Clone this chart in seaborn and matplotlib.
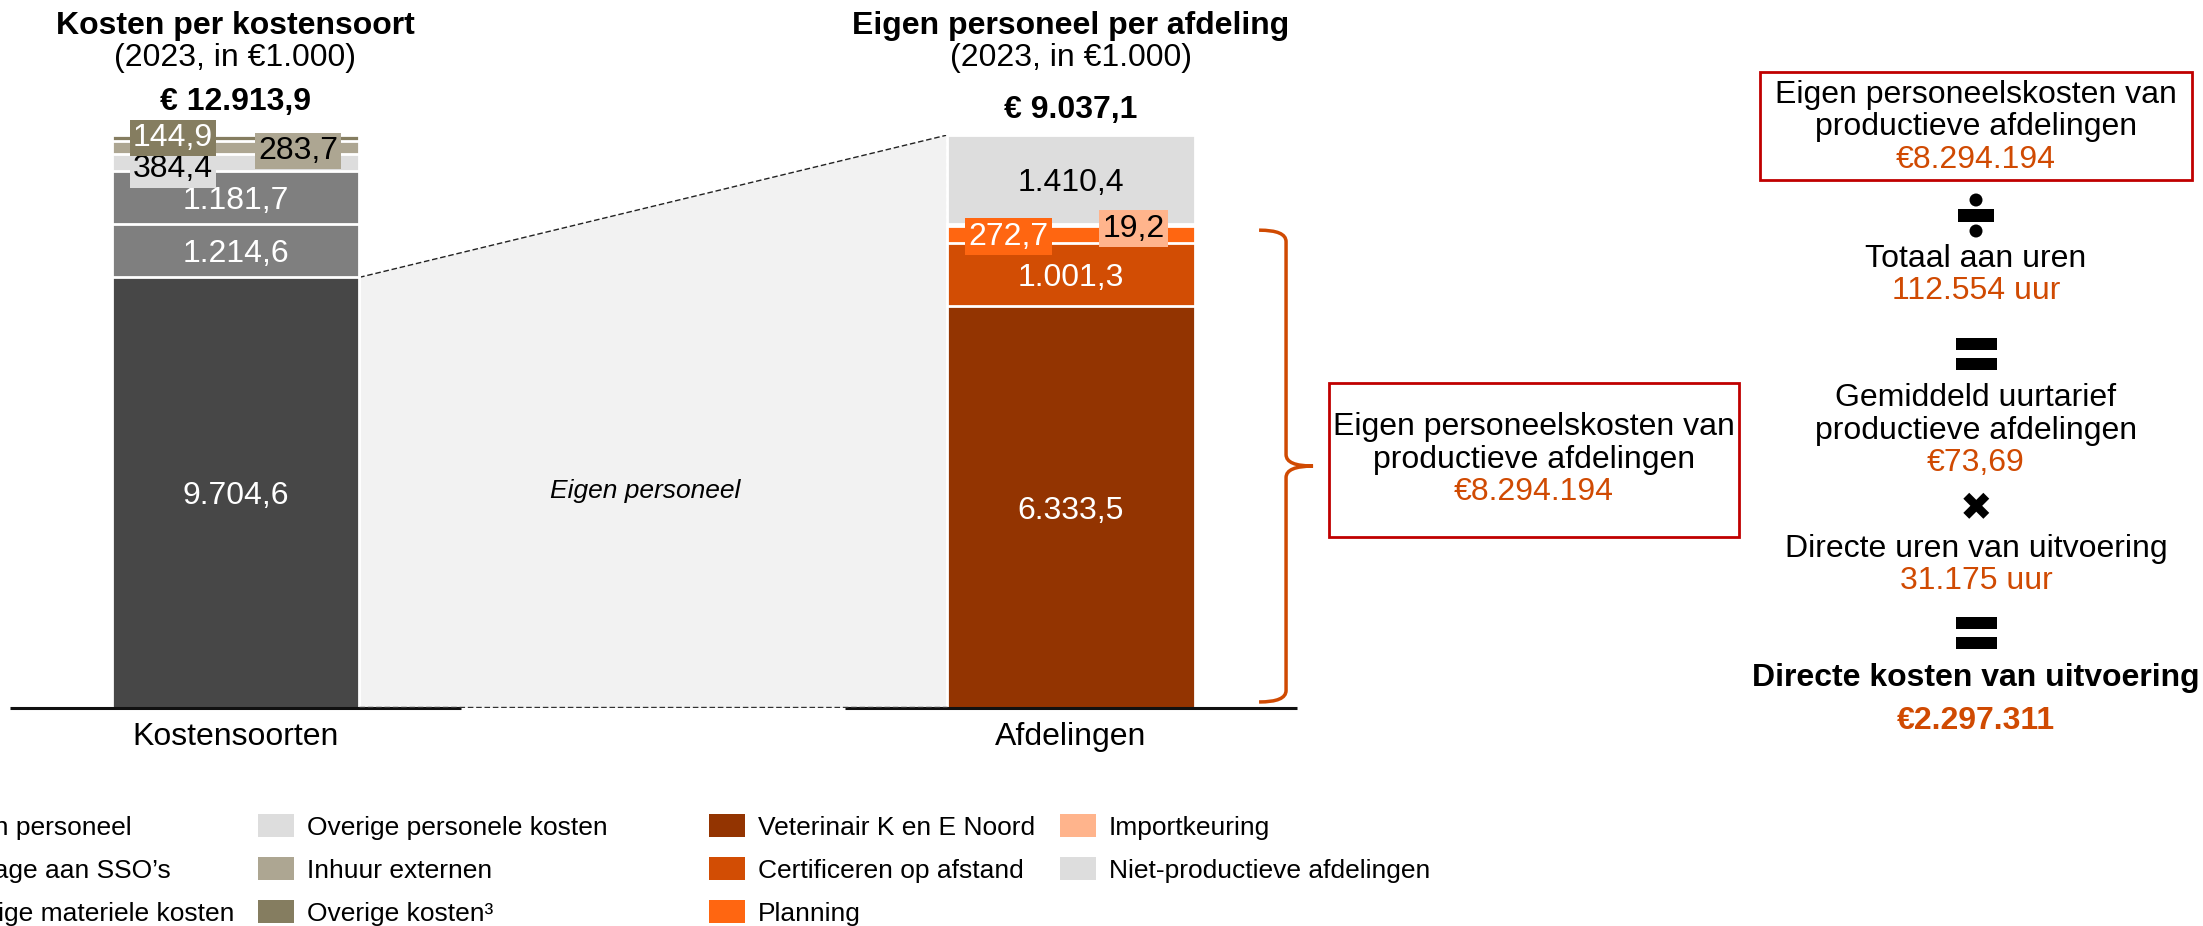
import numpy as np
import matplotlib
matplotlib.use("Agg")
import matplotlib.pyplot as plt
import seaborn as sns
from matplotlib.patches import Patch, Rectangle, Ellipse, PathPatch, Polygon
from matplotlib.path import Path
import matplotlib.patheffects as pe

# --- data ---
bar_names = ["Kostensoorten", "Afdelingen"]

kosten_cats = ["Eigen personeel", "Bijdrage aan SSO\u2019s", "Overige materiele kosten",
               "Overige personele kosten", "Inhuur externen", "Overige kosten\u00b3"]
kosten_vals = [9704.6, 1214.6, 1181.7, 384.4, 283.7, 144.9]
kosten_colors = ["#474747", "#7F7F7F", "#7F7F7F", "#DDDDDD", "#ADA692", "#857D60"]
kosten_textcol = ["white", "white", "white", "black", "black", "white"]

afd_cats = ["Veterinair K en E Noord", "Certificeren op afstand", "Planning",
            "Importkeuring", "Niet-productieve afdelingen"]
afd_vals = [6333.5, 1001.3, 272.7, 19.2, 1410.4]
afd_colors = ["#933401", "#D24D04", "#FF6611", "#FFB48C", "#DDDDDD"]
afd_textcol = ["white", "white", "white", "black", "black"]

panel_labels = [["Eigen personeelskosten van", "productieve afdelingen"],
                ["Totaal aan uren"],
                ["Gemiddeld uurtarief", "productieve afdelingen"],
                ["Directe uren van uitvoering"],
                ["Directe kosten van uitvoering"]]
panel_values = ["\u20ac8.294.194", "112.554 uur", "\u20ac73,69", "31.175 uur", "\u20ac2.297.311"]

ORANGE = "#D04A02"
RED = "#C00000"
W, H = 2203, 926


def nl(v):
    s = f"{v:,.1f}"
    return s.replace(",", "X").replace(".", ",").replace("X", ".")


def fx(x):
    return x / W


def fy(y):
    return 1 - y / H


sns.set_theme(style="white")
plt.rcParams["font.family"] = ["Liberation Sans", "DejaVu Sans"]
plt.rcParams["text.color"] = "black"
plt.rcParams["xtick.color"] = "black"
plt.rcParams["axes.labelcolor"] = "black"

fig = plt.figure(figsize=(W / 100, H / 100), dpi=100)

# bar centres at 235.5px and 1071px; y=0 at 708px, y=1 at 135px (both bars as share of total)
c0, step = 235.5, 835.5
x_lo, x_hi = -0.28, 1.28
ax = fig.add_axes([fx(c0 + x_lo * step), fy(708), (x_hi - x_lo) * step / W, (708 - 135) / H])
ax.set_facecolor("none")

BAR_W = 0.296


def stacked(name, vals, colors):
    shares = np.cumsum(vals) / sum(vals)
    for share, col in reversed(list(zip(shares, colors))):
        sns.barplot(x=[name], y=[share], order=bar_names, color=col, saturation=1,
                    width=BAR_W, edgecolor="white", linewidth=2, errorbar=None,
                    ax=ax, zorder=2)


stacked("Kostensoorten", kosten_vals, kosten_colors)
stacked("Afdelingen", afd_vals, afd_colors)


def seg_labels(pos, vals, colors, tcols, side, nudge):
    total = sum(vals)
    bottoms = np.cumsum([0] + vals[:-1]) / total
    for v, b, col, tc, s, dy in zip(vals, bottoms, colors, tcols, side, nudge):
        ax.text(pos + s * 0.0748, b + v / total / 2 + dy, nl(v), ha="center",
                va="center_baseline", color=tc, fontsize=23, zorder=5,
                bbox=dict(boxstyle="square,pad=0.1", fc=col, ec="none"))


seg_labels(0, kosten_vals, kosten_colors, kosten_textcol,
           [0, 0, 0, -1, 1, -1], [0, 0, 0, -0.006, 0, 0.007])
seg_labels(1, afd_vals, afd_colors, afd_textcol,
           [0, 0, -1, 1, 0], [0, 0, 0.002, 0, 0])

# totals and titles
ax.text(0, 1.058, "\u20ac " + nl(sum(kosten_vals)), ha="center", va="center",
        fontsize=23, fontweight="bold")
ax.text(1, 1.044, "\u20ac " + nl(sum(afd_vals)), ha="center", va="center",
        fontsize=23, fontweight="bold")
ax.text(0, 1.19, "Kosten per kostensoort", ha="center", va="center", fontsize=23, fontweight="bold")
ax.text(1, 1.19, "Eigen personeel per afdeling", ha="center", va="center", fontsize=23, fontweight="bold")
ax.text(0, 1.134, "(2023, in \u20ac1.000)", ha="center", va="center", fontsize=23)
ax.text(1, 1.134, "(2023, in \u20ac1.000)", ha="center", va="center", fontsize=23)

# connector area between the two bars
xl, xr = BAR_W / 2, 1 - BAR_W / 2
yl = kosten_vals[0] / sum(kosten_vals)
poly = Polygon([[xl, 0], [xl, yl], [xr, 1], [xr, 0]], closed=True, fc="#F2F2F2", ec="none", zorder=1)
poly.set_path_effects([pe.SimplePatchShadow(offset=(0, -5), shadow_rgbFace="black", alpha=0.06),
                       pe.Normal()])
ax.add_patch(poly)
ax.plot([xl, xr], [yl, 1], color="#222222", lw=1, ls=(0, (4, 2)), zorder=1.5)
ax.plot([xr, xr], [0, 1], color="#AAAAAA", lw=1, ls=(0, (3, 2)), zorder=1.5)
ax.plot([xl, xr], [0.002, 0.002], color="#333333", lw=1, ls=(0, (4, 2)), zorder=3.5)
ax.text((xl + xr) / 2 - 0.01, 0.379, "Eigen personeel", style="italic", fontsize=19,
        ha="center", va="center", zorder=2)

# baselines under each bar
ax.hlines([0, 0], [-0.27, 0.73], [0.27, 1.27], color="#111111", lw=2.2, zorder=3, clip_on=False)

# brace next to the productive departments
top = sum(afd_vals[:4]) / sum(afd_vals) - 0.01
bot = 0.0105
mid = (top + bot) / 2
bx, arm, tip, r = 1.2574, 1.2251, 1.2897, 0.02
verts = [(arm, top), (bx, top), (bx, top - r), (bx, mid + r), (bx, mid), (tip, mid),
         (bx, mid), (bx, mid - r), (bx, bot + r), (bx, bot), (arm, bot)]
codes = [Path.MOVETO, Path.CURVE3, Path.CURVE3, Path.LINETO, Path.CURVE3, Path.CURVE3,
         Path.CURVE3, Path.CURVE3, Path.LINETO, Path.CURVE3, Path.CURVE3]
ax.add_patch(PathPatch(Path(verts, codes), fc="none", ec=ORANGE, lw=2.5, clip_on=False))

ax.set_xlim(x_lo, x_hi)
ax.set_ylim(0, 1)
ax.set_xticks([0, 1])
ax.set_xticklabels(bar_names, fontsize=23, color="black")
ax.tick_params(axis="x", length=0, pad=10)
ax.set_yticks([])
ax.set_xlabel("")
ax.set_ylabel("")
sns.despine(ax=ax, left=True, bottom=True)

# middle callout box
fig.patches.append(Rectangle((fx(1329), fy(537)), 410 / W, 154 / H, transform=fig.transFigure,
                             fill=False, ec=RED, lw=2))
fig.text(fx(1534), fy(427), panel_labels[0][0], ha="center", va="center", fontsize=23)
fig.text(fx(1534), fy(460), panel_labels[0][1], ha="center", va="center", fontsize=23)
fig.text(fx(1534), fy(492), panel_values[0], ha="center", va="center", fontsize=23, color=ORANGE)

# calculation panel on the right
cx = 1976
fig.patches.append(Rectangle((fx(1760), fy(180)), 432 / W, 108 / H, transform=fig.transFigure,
                             fill=False, ec=RED, lw=2))
fig.text(fx(cx), fy(95), panel_labels[0][0], ha="center", va="center", fontsize=23)
fig.text(fx(cx), fy(127), panel_labels[0][1], ha="center", va="center", fontsize=23)
fig.text(fx(cx), fy(160), panel_values[0], ha="center", va="center", fontsize=23, color=ORANGE)

fig.text(fx(cx), fy(259), panel_labels[1][0], ha="center", va="center", fontsize=23)
fig.text(fx(cx), fy(291), panel_values[1], ha="center", va="center", fontsize=23, color=ORANGE)

fig.text(fx(cx), fy(398), panel_labels[2][0], ha="center", va="center", fontsize=23)
fig.text(fx(cx), fy(431), panel_labels[2][1], ha="center", va="center", fontsize=23)
fig.text(fx(cx), fy(463), panel_values[2], ha="center", va="center", fontsize=23, color=ORANGE)

fig.text(fx(cx), fy(549), panel_labels[3][0], ha="center", va="center", fontsize=23)
fig.text(fx(cx), fy(581), panel_values[3], ha="center", va="center", fontsize=23, color=ORANGE)

fig.text(fx(cx), fy(678), panel_labels[4][0], ha="center", va="center", fontsize=23, fontweight="bold")
fig.text(fx(cx), fy(721), panel_values[4], ha="center", va="center", fontsize=23,
         fontweight="bold", color=ORANGE)


def rect_px(x0, y0, w, h):
    fig.patches.append(Rectangle((fx(x0), fy(y0 + h)), w / W, h / H, transform=fig.transFigure,
                                 fc="black", ec="none"))


def dot_px(x, y, d):
    fig.patches.append(Ellipse((fx(x), fy(y)), d / W, d / H, transform=fig.transFigure,
                               fc="black", ec="none"))


# divide sign
rect_px(cx - 18, 209, 36, 13)
dot_px(cx, 200, 13)
dot_px(cx, 231, 13)
# equals signs
for y0 in (338, 617):
    rect_px(cx - 20, y0, 41, 12)
    rect_px(cx - 20, y0 + 20, 41, 12)
# multiply sign
fig.text(fx(cx), fy(509), "\u2716", ha="center", va="center", fontsize=28,
         family=["DejaVu Sans"])


# legends (first column runs off the left edge, as in the source)
def legend_col(labels, colors, x_handle, y_top):
    handles = [Patch(facecolor=c, edgecolor="none", label=l) for l, c in zip(labels, colors)]
    fig.legend(handles=handles, loc="upper left", bbox_to_anchor=(fx(x_handle), fy(y_top)),
               frameon=False, fontsize=19, handlelength=1.36, handleheight=0.98,
               handletextpad=0.49, labelspacing=0.66, borderpad=0, borderaxespad=0,
               labelcolor="black")


legend_col(kosten_cats[:3], kosten_colors[:3], -108, 814)
legend_col(kosten_cats[3:], kosten_colors[3:], 258, 814)
legend_col(afd_cats[:3], afd_colors[:3], 709, 814)
legend_col(afd_cats[3:], afd_colors[3:], 1060, 814)

fig.savefig("out.png", dpi=100)
